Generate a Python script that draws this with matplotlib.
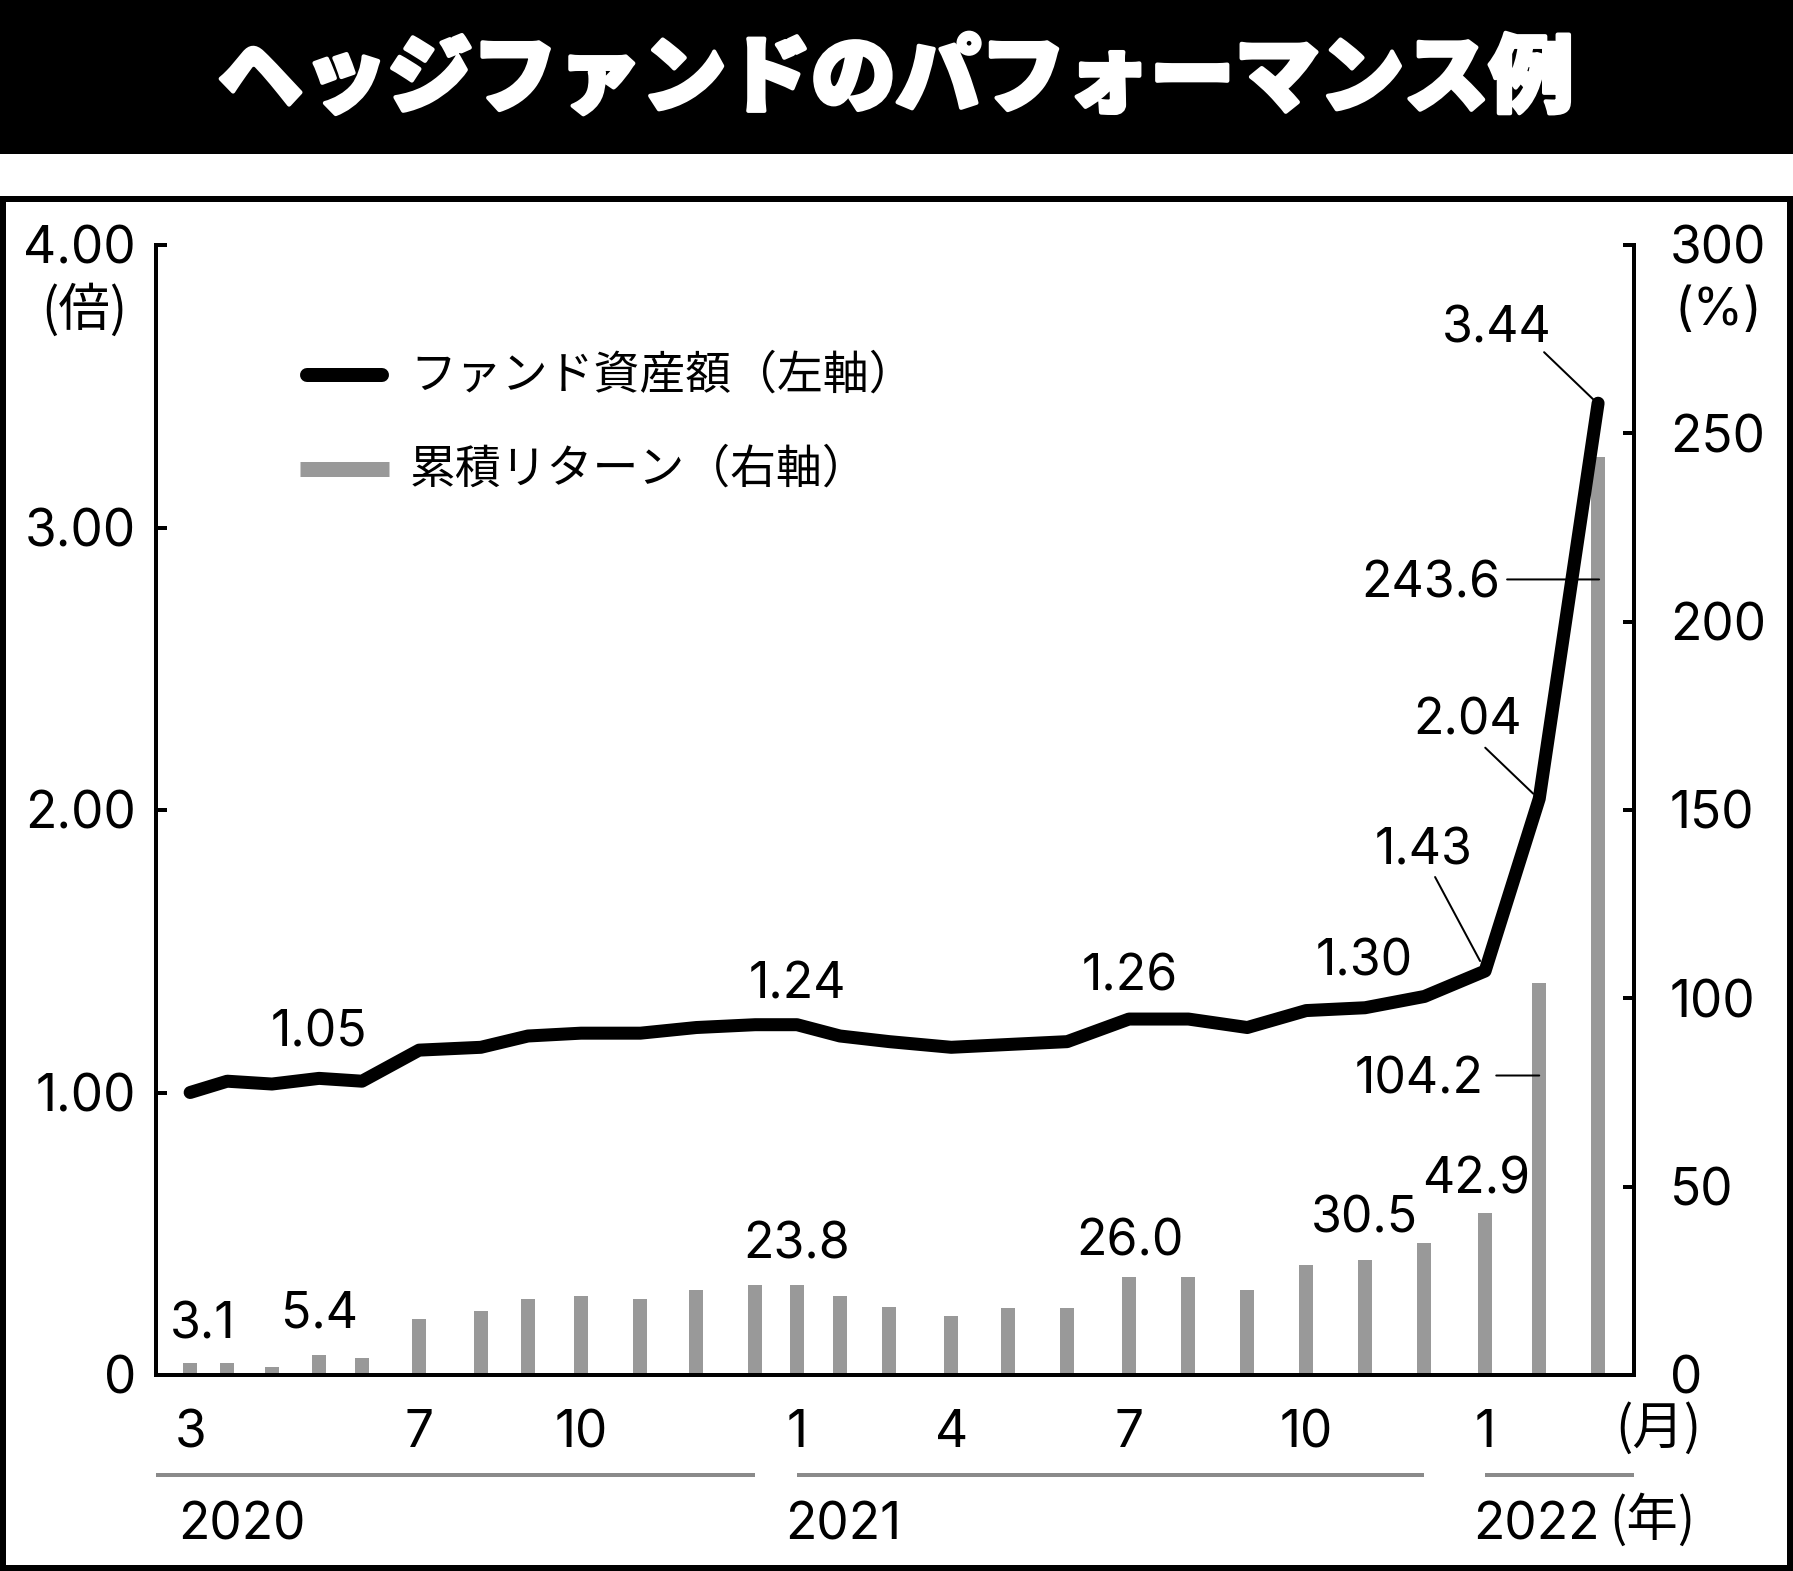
import matplotlib
matplotlib.use('Agg')
import matplotlib.pyplot as plt
from matplotlib.transforms import offset_copy
from matplotlib.lines import Line2D
from matplotlib.patches import Rectangle
import matplotlib.patheffects as pe

# ---------------- data ----------------
title = 'ヘッジファンドのパフォーマンス例'
line_name = 'ファンド資産額（左軸）'
bar_name = '累積リターン（右軸）'

# position of each observation in months after March 2020, as drawn
period = [0.00, 0.63, 1.39, 2.19, 2.92, 3.89, 4.94, 5.74, 6.64, 7.65, 8.60,
          9.60, 10.31, 11.04, 11.88, 12.93, 13.90, 14.90, 15.95, 16.96,
          17.96, 18.96, 19.96, 20.97, 22.00, 22.92, 23.92]
fund_assets = [1.00, 1.04, 1.03, 1.05, 1.04, 1.15, 1.16, 1.20, 1.21, 1.21,
               1.23, 1.24, 1.24, 1.20, 1.18, 1.16, 1.17, 1.18, 1.26, 1.26,
               1.23, 1.29, 1.30, 1.34, 1.43, 2.04, 3.44]
cum_return = [3.1, 3.1, 2.1, 5.4, 4.5, 14.9, 17.0, 20.2, 21.0, 20.2, 22.6,
              23.8, 23.8, 21.0, 18.1, 15.7, 17.8, 17.8, 26.0, 26.0, 22.6,
              29.3, 30.5, 35.1, 42.9, 104.2, 243.6]
month_tick_idx = [0, 5, 8, 12, 15, 18, 21, 24]
month_tick_labels = ['3', '7', '10', '1', '4', '7', '10', '1']
left_ticks = [0, 1, 2, 3, 4]
left_tick_labels = ['0', '1.00', '2.00', '3.00', '4.00']
right_ticks = [0, 50, 100, 150, 200, 250, 300]
right_tick_labels = ['0', '50', '100', '150', '200', '250', '300']
year_labels = ['2020', '2021', '2022']
year_first_idx = [0, 12, 24]
year_last_idx = [11, 23, 26]
line_label_idx = [3, 12, 18, 22, 24, 25, 26]
bar_label_idx = [0, 3, 12, 18, 22, 24, 25, 26]

# ---------------- layout ----------------
W, H, DPI = 1793, 1571, 100
PT = 72 / DPI
plt.rcParams['font.family'] = ['Inter', 'Noto Sans CJK JP', 'DejaVu Sans']
FS = 36
TFS = 37
JP = ['Noto Sans CJK JP', 'DejaVu Sans']

fig = plt.figure(figsize=(W / DPI, H / DPI), dpi=DPI)
fx = lambda px: px / W
fy = lambda py: 1 - py / H

# title band and frame
fig.add_artist(Rectangle((0, fy(154)), 1, 154 / H, transform=fig.transFigure,
                         facecolor='black', edgecolor='none'))
fig.text(fx(896), fy(80), title, color='white', fontsize=61,
         family=JP, fontweight='black', ha='center', va='center',
         path_effects=[pe.withStroke(linewidth=3, foreground='white')])
fig.add_artist(Rectangle((fx(3), fy(1568)), fx(1790) - fx(3), fy(199) - fy(1568),
                         transform=fig.transFigure, facecolor='none',
                         edgecolor='black', linewidth=6 * PT))

L, R, T, B = 156, 1634, 245, 1375
ax = fig.add_axes([fx(L), fy(B), fx(R) - fx(L), fy(T) - fy(B)])
ax2 = ax.twinx()
ax.set_zorder(2)
ax2.set_zorder(1)
ax.patch.set_visible(False)

xmin = period[0] - 0.58
xmax = period[0] + 24.53
ax.set_xlim(xmin, xmax)
ax.set_ylim(0, 4)
ax2.set_ylim(0, 300)

ax2.bar(period, cum_return, width=0.238, color='#999999', zorder=1)
ax.plot(period, fund_assets, color='black', linewidth=13 * PT,
        solid_capstyle='round', solid_joinstyle='round', zorder=3)

for a in (ax, ax2):
    for s in a.spines.values():
        s.set_linewidth(4 * PT)
    a.spines['top'].set_visible(False)
ax.spines['right'].set_visible(False)
ax2.spines['left'].set_visible(False)
ax2.spines['bottom'].set_visible(False)

ax.set_yticks(left_ticks)
ax.set_yticklabels(left_tick_labels)
ax.tick_params(axis='y', direction='in', length=11 * PT, width=4 * PT,
               pad=20 * PT, labelsize=TFS)
ax2.set_yticks(right_ticks)
ax2.set_yticklabels(right_tick_labels)
ax2.tick_params(axis='y', direction='in', length=11 * PT, width=4 * PT,
                pad=36 * PT, labelsize=TFS)
ax.set_xticks([])

xtr = ax.get_xaxis_transform()
base_y = lambda py: (B - py) / (B - T)
for i, lab in zip(month_tick_idx, month_tick_labels):
    ax.text(period[i], base_y(1447), lab, transform=xtr, ha='center',
            va='baseline', fontsize=TFS, clip_on=False)
fig.text(fx(1658), fy(1429), '(月)', ha='center', va='center', fontsize=37, family=JP)

# unit labels
fig.text(fx(84), fy(311), '(倍)', ha='center', va='center', fontsize=37, family=JP)
fig.text(fx(1718), fy(311), '(%)', ha='center', va='center', fontsize=37)

# year spans
for lab, i0, i1 in zip(year_labels, year_first_idx, year_last_idx):
    x0 = xmin if i0 == 0 else period[i0]
    x1 = xmax if i1 == len(period) - 1 else period[i1]
    ax.add_line(Line2D([x0, x1], [base_y(1475)] * 2, transform=xtr, color='#8a8a8a',
                       linewidth=4 * PT, clip_on=False, solid_capstyle='butt'))
    tr = offset_copy(xtr, fig=fig, x=-12 * PT, y=0, units='points')
    ax.text(period[i0], base_y(1539), lab, transform=tr, ha='left',
            va='baseline', fontsize=TFS, clip_on=False)
fig.text(fx(1652), fy(1521), '(年)', ha='center', va='center', fontsize=37, family=JP)

# legend
fig.add_artist(Line2D([fx(307), fx(382)], [fy(375)] * 2, transform=fig.transFigure,
                      color='black', linewidth=14 * PT, solid_capstyle='round'))
fig.add_artist(Line2D([fx(300), fx(389)], [fy(469)] * 2, transform=fig.transFigure,
                      color='#999999', linewidth=15 * PT, solid_capstyle='butt'))
fig.text(fx(410), fy(375), line_name, ha='left', va='center', fontsize=33, family=JP)
fig.text(fx(410), fy(469), bar_name, ha='left', va='center', fontsize=33, family=JP)


def value_label(a, x, y, s, dx, dy, ha='center'):
    tr = offset_copy(a.transData, fig=fig, x=dx * PT, y=(dy - 18) * PT, units='points')
    a.text(x, y, s, transform=tr, ha=ha, va='baseline', fontsize=FS, clip_on=False,
           zorder=5)


def leader(a, x, y, start, end):
    tr = offset_copy(a.transData, fig=fig, x=end[0] * PT, y=end[1] * PT, units='points')
    a.annotate('', xy=(x, y), xycoords=tr,
               xytext=((start[0] - end[0]) * PT, (start[1] - end[1]) * PT),
               textcoords='offset points',
               arrowprops=dict(arrowstyle='-', color='black', lw=2 * PT,
                               shrinkA=0, shrinkB=0), zorder=5)


# label placement (pixel offsets from the data point)
line_label_off = {3: (0, 50), 12: (0, 44), 18: (1, 47), 22: (-1, 50),
                  24: (-61, 125), 25: (-72, 82), 26: (-101, 79)}
line_leaders = {24: ((-50, 94), (-5, 10)), 25: ((-54, 51), (-6, 5)),
                26: ((-54, 51), (-4, 3))}
for i in line_label_idx:
    dx, dy = line_label_off[i]
    value_label(ax, period[i], fund_assets[i], f'{fund_assets[i]:.2f}', dx, dy)
    if i in line_leaders:
        leader(ax, period[i], fund_assets[i], *line_leaders[i])

bar_label_off = {0: (13, 43, 'center'), 3: (0, 45, 'center'), 12: (0, 45, 'center'),
                 18: (1, 40, 'center'), 22: (-1, 46, 'center'), 24: (-9, 38, 'center'),
                 25: (-56, -93, 'right'), 26: (-98, -122, 'right')}
bar_leaders = {25: ((-43, -93), (0, -93)), 26: ((-91, -122), (1, -122))}
for i in bar_label_idx:
    dx, dy, ha = bar_label_off[i]
    value_label(ax2, period[i], cum_return[i], f'{cum_return[i]:.1f}', dx, dy, ha)
    if i in bar_leaders:
        leader(ax2, period[i], cum_return[i], *bar_leaders[i])

fig.savefig('out.png', dpi=DPI)
